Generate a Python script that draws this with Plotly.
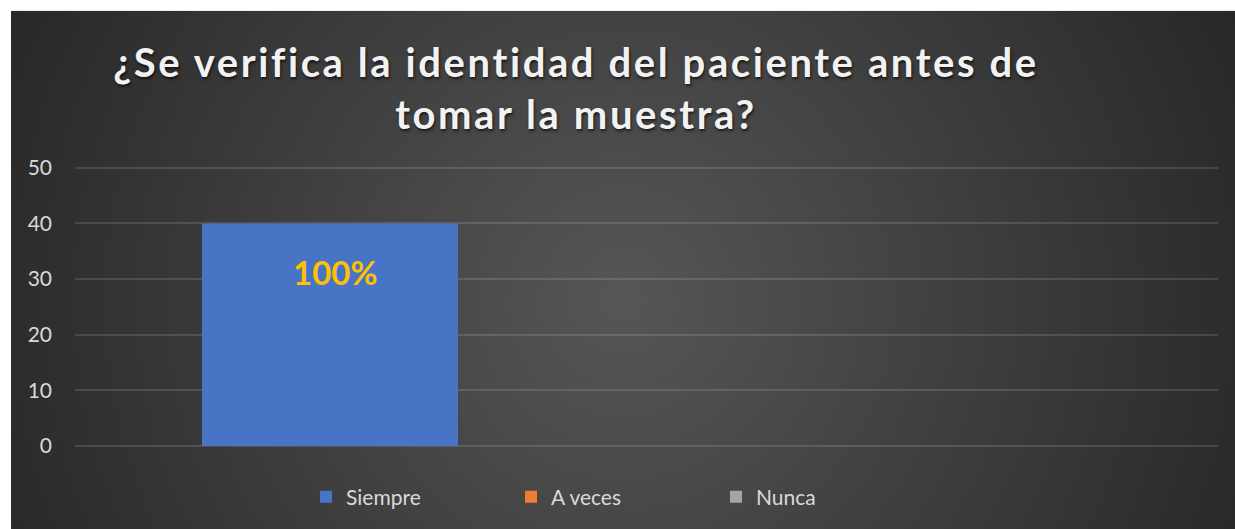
import base64
import plotly.graph_objects as go

# ---- data ----
categories = ["Siempre", "A veces", "Nunca"]
values = [40, 0, 0]
colors = ["#4874C6", "#ED7D31", "#A5A5A5"]
y_ticks = [0, 10, 20, 30, 40, 50]
title_lines = ["¿Se verifica la identidad del paciente antes de", "tomar la muestra?"]

# ---- geometry ----
W, H = 1235, 529
Y_MAX = 50.5
y0_px, y50_px = 446, 168
PH = (y0_px - y50_px) * Y_MAX / 50
L, R = 75, 17
B = H - y0_px
T = H - B - PH
PW = W - L - R
FONT = "Lato"

# background radial gradient (chart area starts at 11,11)
bx0, by0 = 11, 11
bw, bh = W - bx0, H - by0
svg = f'''<svg xmlns="http://www.w3.org/2000/svg" width="{bw}" height="{bh}" viewBox="0 0 {bw} {bh}" preserveAspectRatio="none">
<defs><radialGradient id="g" gradientUnits="userSpaceOnUse" cx="{612}" cy="{290}" r="{700}">
<stop offset="0" stop-color="#565656"/><stop offset="1" stop-color="#262626"/></radialGradient></defs>
<rect x="0" y="0" width="{bw}" height="{bh}" fill="url(#g)"/></svg>'''
src = "data:image/svg+xml;base64," + base64.b64encode(svg.encode()).decode()

fig = go.Figure()
for c, v, col in zip(categories, values, colors):
    fig.add_trace(go.Bar(x=[c], y=[v], name=c,
                         marker=dict(color=col, line=dict(width=0)),
                         hoverinfo="skip"))

total = sum(values)
annotations = []
for c, v in zip(categories, values):
    if v > 0:
        annotations.append(dict(x=c, y=v, xref="x", yref="y", text=f"{v / total * 100:.0f}%",
                                showarrow=False, yanchor="top", yshift=-27, xshift=5,
                                font=dict(family=FONT, size=33, color="#FFC000", weight="bold")))

title_text = "<br>".join(f"<span style='letter-spacing:2.6px'>{t}</span>" for t in title_lines)

n = len(categories)
cat_px = PW / n
bar_px = 256
first_center_px = 330 - L
x_start = -first_center_px / cat_px

fig.update_layout(
    width=W, height=H,
    margin=dict(l=L, r=R, t=T, b=B, autoexpand=False),
    paper_bgcolor="white",
    plot_bgcolor="rgba(0,0,0,0)",
    barmode="overlay",
    bargap=1 - bar_px / cat_px,
    title=dict(text=title_text, x=576 / W, xanchor="center", xref="container",
               y=1 - 77 / H, yanchor="top", yref="container",
               font=dict(family=FONT, size=40, color="#F2F2F2", weight="bold",
                         shadow="1px 2px 3px rgba(0,0,0,0.65)")),
    xaxis=dict(type="category", categoryorder="array", categoryarray=categories,
               range=[x_start, x_start + n], showticklabels=False, showgrid=False,
               zeroline=False, showline=False, ticks=""),
    yaxis=dict(range=[0, Y_MAX], tickvals=y_ticks, showgrid=True,
               gridcolor="rgba(255,255,255,0.13)", gridwidth=1.5,
               zeroline=True, zerolinecolor="rgba(255,255,255,0.13)", zerolinewidth=1.5,
               showline=False, ticks="", ticklabelstandoff=22,
               tickfont=dict(family=FONT, size=21, color="#D9D9D9")),
    legend=dict(orientation="h", x=(306 - L) / PW, xanchor="left",
                y=-(497 - y0_px) / PH, yanchor="middle",
                entrywidth=160, bgcolor="rgba(0,0,0,0)",
                font=dict(family=FONT, size=21, color="#D9D9D9")),
    showlegend=True,
    annotations=annotations,
    images=[dict(source=src, xref="paper", yref="paper",
                 x=(bx0 - L) / PW, y=(y0_px - by0) / PH,
                 sizex=bw / PW, sizey=bh / PH, sizing="stretch",
                 xanchor="left", yanchor="top", layer="below")],
)

fig.write_html("out.html")
